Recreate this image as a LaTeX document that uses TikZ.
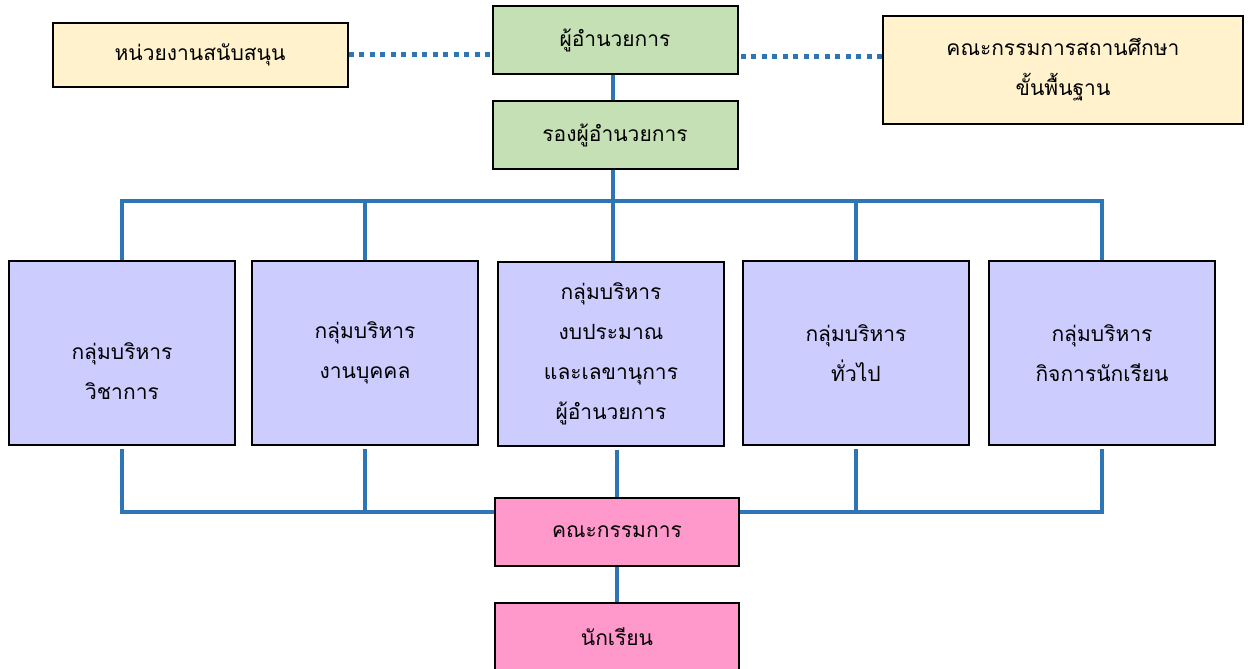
\documentclass[tikz,border=0pt]{standalone}
\usepackage{fontspec}
\setmainfont[Script=Thai]{Loma}
\usepackage{tikz}

\definecolor{linkblue}{HTML}{2E75B6}
\definecolor{cream}{HTML}{FFF2CC}
\definecolor{leaf}{HTML}{C5E0B4}
\definecolor{lilac}{HTML}{CCCCFF}
\definecolor{rose}{HTML}{FF99CC}

\begin{document}
\begin{tikzpicture}[x=1pt, y=-1pt,
		boxtext/.style = {align=center, inner sep=0pt, font=\fontsize{21}{40}\selectfont},
		box/.style = {boxtext, draw=black, line width=2pt},
		side/.style = {box, fill=cream},
		head/.style = {box, fill=leaf, minimum width=245pt, minimum height=68pt},
		grp/.style = {box, fill=lilac, minimum width=226pt, minimum height=184pt},
		base/.style = {box, fill=rose, minimum width=244pt, minimum height=68pt},
		link/.style = {draw=linkblue, line width=4.5pt},
		dotlink/.style = {draw=linkblue, line width=5pt, dash pattern=on 5pt off 5.5pt}]
					\clip (0,0) rectangle (1248,669);
					\fill[white] (0,0) rectangle (1248,669);
					% top row
					\node[side, minimum width=295pt, minimum height=64pt] (sup) at (200,55) {หน่วยงานสนับสนุน};
					\node[side, minimum width=360pt, minimum height=108pt] (board) at (1063,70) {คณะกรรมการสถานศึกษา\\ขั้นพื้นฐาน};
					\node[head] (dir) at (615,40) {ผู้อำนวยการ};
					\node[head] (dep) at (615,135) {รองผู้อำนวยการ};
					% groups
					\node[grp] (g1) at (122,353) {};
					\node[boxtext] (g1t) at ([yshift=-18pt]g1.center) {กลุ่มบริหาร\\วิชาการ};
					\node[grp] (g2) at (365,353) {กลุ่มบริหาร\\งานบุคคล};
					\node[grp] (g3) at (611,354) {กลุ่มบริหาร\\งบประมาณ\\และเลขานุการ\\ผู้อำนวยการ};
					\node[grp] (g4) at (856,353) {กลุ่มบริหาร\\ทั่วไป};
					\node[grp] (g5) at (1102,353) {กลุ่มบริหาร\\กิจการนักเรียน};
					% bottom
					\node[base] (com) at (617,532) {คณะกรรมการ};
					\node[base] (stu) at (617,637) {นักเรียน};
					\coordinate (tbus) at (0,201);
					\coordinate (bbus) at (0,512);
					% connectors
					\draw[dotlink] (sup.east) -- (sup.east -| dir.west);
					\draw[dotlink] ([yshift=-2pt]board.west |- sup.east) -- ([yshift=-2pt]dir.east |- sup.east);
					\draw[link] (dir.south -| 613,0) -- (dep.north -| 613,0);
					\draw[link] (dep.south -| 613,0) -- (g3.north -| 613,0);
					\draw[link] (g1.north) -- (g1.north |- tbus) -- (g5.north |- tbus) -- (g5.north);
					\draw[link] (g2.north) -- (g2.north |- tbus);
					\draw[link] (g4.north) -- (g4.north |- tbus);
					\draw[link] ([yshift=-3pt]g1.south) -- (g1.south |- bbus) -- (com.west |- bbus);
					\draw[link] (com.east |- bbus) -- (g5.south |- bbus) -- ([yshift=-3pt]g5.south);
					\draw[link] ([yshift=-3pt]g2.south) -- (g2.south |- bbus);
					\draw[link] ([yshift=-3pt]g4.south) -- (g4.south |- bbus);
					\draw[link] ([yshift=-3pt]g3.south -| com.north) -- (com.north);
					\draw[link] (com.south) -- (stu.north);
					\end{tikzpicture}
\end{document}
